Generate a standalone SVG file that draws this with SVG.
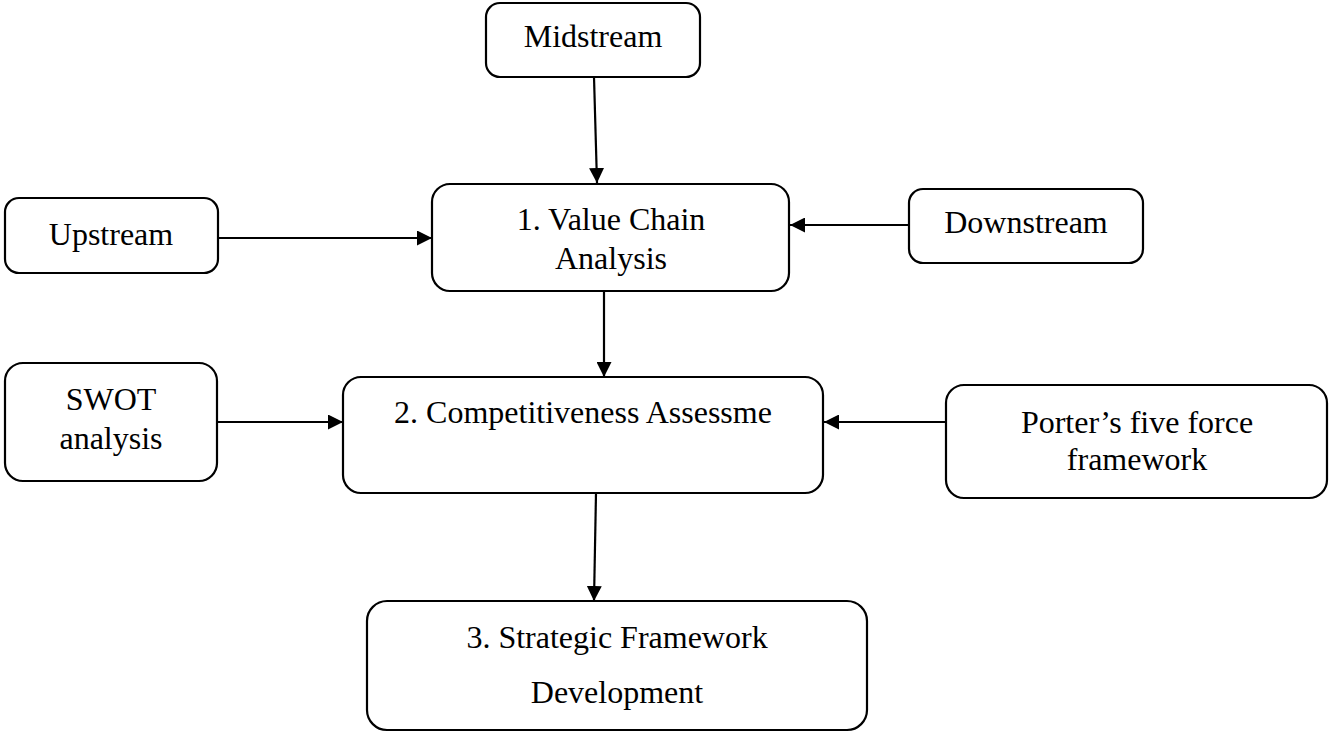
<svg xmlns="http://www.w3.org/2000/svg" width="1330" height="734" viewBox="0 0 1330 734">
<style>
.box{fill:#fff;stroke:#000;stroke-width:2.2}
.lbl{font-family:"Liberation Serif","Times New Roman",serif;font-size:32px;fill:#000;text-anchor:middle}
.con{stroke:#000;stroke-width:2.2;fill:none}
</style>
<defs>
<marker id="ah" viewBox="0 0 15 15" refX="15" refY="7.5" markerWidth="15" markerHeight="15" markerUnits="userSpaceOnUse" orient="auto">
<path d="M0,0 L15,7.5 L0,15 Z" fill="#000"/>
</marker>
</defs>
<rect width="1330" height="734" fill="#fff"/>
<g id="connectors">
<line class="con" x1="594" y1="77" x2="597" y2="183" marker-end="url(#ah)"/>
<line class="con" x1="218" y1="238" x2="432" y2="238" marker-end="url(#ah)"/>
<line class="con" x1="909" y1="225" x2="790" y2="225" marker-end="url(#ah)"/>
<line class="con" x1="604" y1="291" x2="604" y2="377" marker-end="url(#ah)"/>
<line class="con" x1="217" y1="422" x2="343" y2="422" marker-end="url(#ah)"/>
<line class="con" x1="946" y1="422" x2="824" y2="422" marker-end="url(#ah)"/>
<line class="con" x1="596" y1="493" x2="594" y2="601" marker-end="url(#ah)"/>
</g>
<g id="midstream">
<rect class="box" x="486" y="3" width="214" height="74" rx="14"/>
<text class="lbl" x="593" y="47">Midstream</text>
</g>
<g id="upstream">
<rect class="box" x="5" y="198" width="213" height="75" rx="14"/>
<text class="lbl" x="111" y="245">Upstream</text>
</g>
<g id="downstream">
<rect class="box" x="909" y="189" width="234" height="74" rx="14"/>
<text class="lbl" x="1026" y="233">Downstream</text>
</g>
<g id="value-chain">
<rect class="box" x="432" y="184" width="357" height="107" rx="18"/>
<text class="lbl" x="611" y="230">1. Value Chain</text>
<text class="lbl" x="611" y="269">Analysis</text>
</g>
<g id="swot">
<rect class="box" x="5" y="363" width="212" height="118" rx="18"/>
<text class="lbl" x="111" y="410">SWOT</text>
<text class="lbl" x="111" y="449">analysis</text>
</g>
<g id="competitiveness">
<rect class="box" x="343" y="377" width="480" height="116" rx="18"/>
<text class="lbl" x="583" y="423">2. Competitiveness Assessme</text>
</g>
<g id="porter">
<rect class="box" x="946" y="385" width="381" height="113" rx="18"/>
<text class="lbl" x="1137" y="433">Porter’s five force</text>
<text class="lbl" x="1137" y="470">framework</text>
</g>
<g id="strategic">
<rect class="box" x="367" y="601" width="500" height="129" rx="20"/>
<text class="lbl" x="617" y="648">3. Strategic Framework</text>
<text class="lbl" x="617" y="703">Development</text>
</g>
</svg>
